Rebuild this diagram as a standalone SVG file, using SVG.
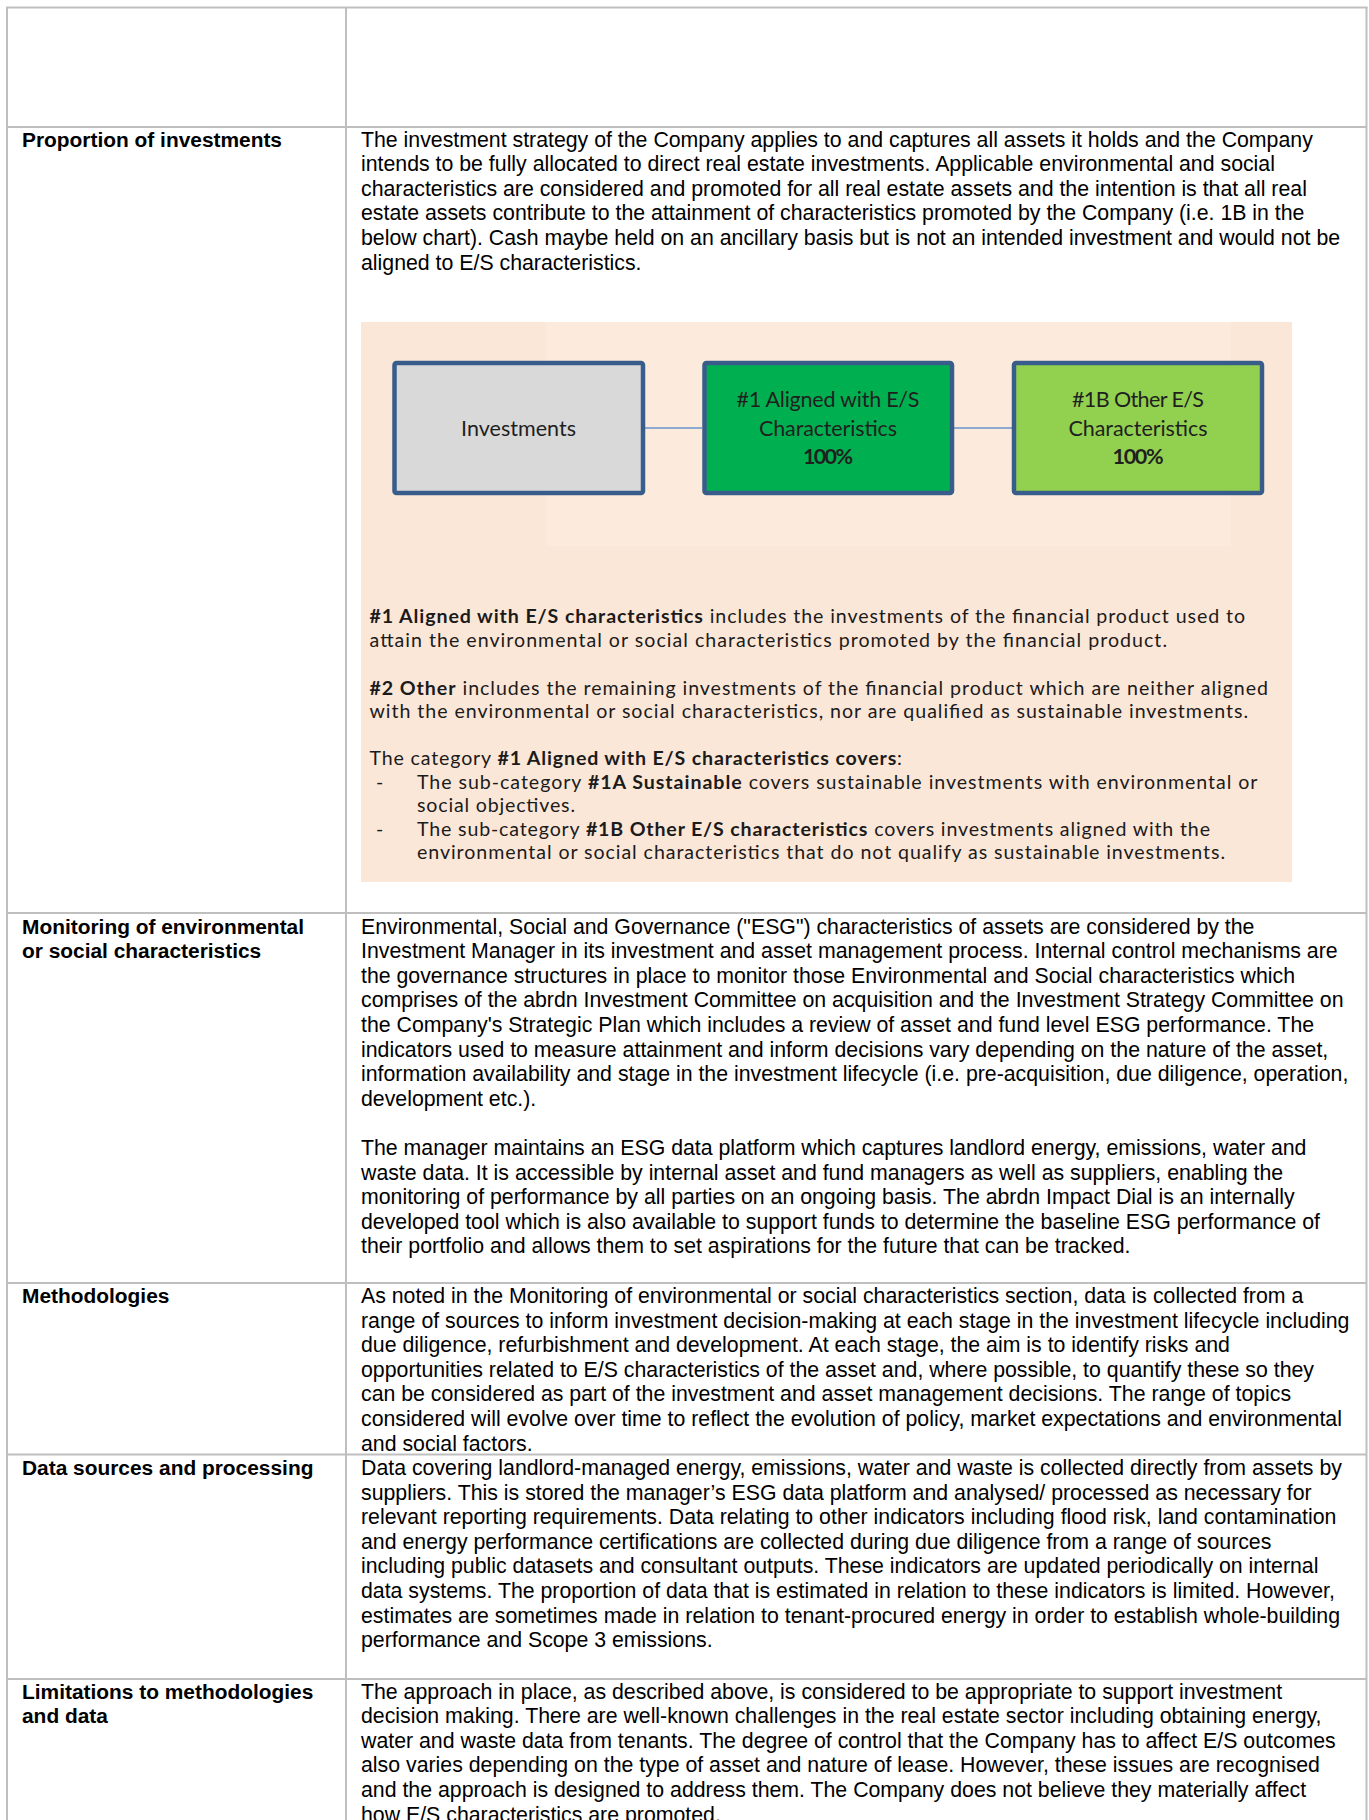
<svg xmlns="http://www.w3.org/2000/svg" width="1369" height="1820" viewBox="0 0 1369 1820">
<style>
.t{font-family:"Liberation Sans",Arial,sans-serif;font-size:21.3px;fill:#000}
.lb{font-family:"Liberation Sans",Arial,sans-serif;font-size:20.9px;font-weight:bold;fill:#000}
.c{font-family:Lato,"Open Sans",sans-serif;font-size:19.6px;fill:#1b1b1b}
.b{font-weight:bold}
.bx{font-family:Lato,"Open Sans",sans-serif;font-size:21.5px;fill:#1f1f1f;text-anchor:middle}
.grid line{stroke:#BFBFBF;stroke-width:2}
.node rect{stroke:#385D8A;stroke-width:4.5}
.conn line{stroke:#6A95CC;stroke-width:1.6}
</style>
<rect width="1369" height="1820" fill="#fff"/>
<g class="grid">
<line x1="6" y1="7.5" x2="1367.5" y2="7.5"/>
<line x1="7" y1="127" x2="1366.5" y2="127"/>
<line x1="7" y1="913" x2="1366.5" y2="913"/>
<line x1="7" y1="1283" x2="1366.5" y2="1283"/>
<line x1="7" y1="1454.5" x2="1366.5" y2="1454.5"/>
<line x1="7" y1="1679" x2="1366.5" y2="1679"/>
<line x1="7" y1="7" x2="7" y2="1820"/>
<line x1="346" y1="7" x2="346" y2="1820"/>
<line x1="1366.5" y1="7" x2="1366.5" y2="1820"/>
</g>

<g id="labels">
<text class="lb" x="22" y="146.5">Proportion of investments</text>
<text class="lb" x="22" y="933.5">Monitoring of environmental<tspan x="22" dy="24.6">or social characteristics</tspan></text>
<text class="lb" x="22" y="1303">Methodologies</text>
<text class="lb" x="22" y="1475">Data sources and processing</text>
<text class="lb" x="22" y="1698.5">Limitations to methodologies<tspan x="22" dy="24.6">and data</tspan></text>
</g>

<g id="text-proportion">
<text class="t" x="361" y="146.5">The investment strategy of the Company applies to and captures all assets it holds and the Company<tspan x="361" dy="24.6">intends to be fully allocated to direct real estate investments. Applicable environmental and social</tspan><tspan x="361" dy="24.6">characteristics are considered and promoted for all real estate assets and the intention is that all real</tspan><tspan x="361" dy="24.6">estate assets contribute to the attainment of characteristics promoted by the Company (i.e. 1B in the</tspan><tspan x="361" dy="24.6">below chart). Cash maybe held on an ancillary basis but is not an intended investment and would not be</tspan><tspan x="361" dy="24.6">aligned to E/S characteristics.</tspan></text>
</g>

<g id="chart">
<rect x="361" y="322" width="931" height="560" fill="#FBE7D8"/>
<rect x="546" y="322" width="685" height="224" fill="#FCEADD"/>
<g class="conn" id="connectors">
<line x1="645" y1="428" x2="702" y2="428"/>
<line x1="954" y1="428" x2="1012" y2="428"/>
</g>
<g class="node" id="node-investments">
<rect x="394.5" y="363" width="248.5" height="130" rx="2" fill="#D9D9D9"/>
<text class="bx" x="518.5" y="435.5" textLength="115" fill="#262626">Investments</text>
</g>
<g class="node" id="node-aligned">
<rect x="704.5" y="363" width="247.5" height="130" rx="2" fill="#00B050"/>
<text class="bx" x="828" y="406.5" textLength="183">#1 Aligned with E/S</text>
<text class="bx" x="828" y="435.5" textLength="138">Characteristics</text>
<text class="bx b" x="828" y="464" textLength="50">100%</text>
</g>
<g class="node" id="node-other">
<rect x="1014" y="363" width="248" height="130" rx="2" fill="#92D050"/>
<text class="bx" x="1138" y="406.5" textLength="132">#1B Other E/S</text>
<text class="bx" x="1138" y="435.5" textLength="139">Characteristics</text>
<text class="bx b" x="1138" y="464" textLength="51">100%</text>
</g>
<g id="chart-legend">
<text class="c" x="369.5" y="623" textLength="875.5" lengthAdjust="spacing"><tspan class="b">#1 Aligned with E/S characteristics</tspan> includes the investments of the financial product used to</text>
<text class="c" x="369.5" y="646.7" textLength="797.5" lengthAdjust="spacing">attain the environmental or social characteristics promoted by the financial product.</text>
<text class="c" x="369.5" y="695" textLength="898.5" lengthAdjust="spacing"><tspan class="b">#2 Other</tspan> includes the remaining investments of the financial product which are neither aligned</text>
<text class="c" x="369.5" y="717.7" textLength="878.5" lengthAdjust="spacing">with the environmental or social characteristics, nor are qualified as sustainable investments.</text>
<text class="c" x="369.5" y="765" textLength="532.5" lengthAdjust="spacing">The category <tspan class="b">#1 Aligned with E/S characteristics covers</tspan>:</text>
<text class="c" x="376" y="789">-</text>
<text class="c" x="417" y="789" textLength="840.5" lengthAdjust="spacing">The sub-category <tspan class="b">#1A Sustainable</tspan> covers sustainable investments with environmental or</text>
<text class="c" x="417" y="811.7" textLength="158" lengthAdjust="spacing">social objectives.</text>
<text class="c" x="376" y="836">-</text>
<text class="c" x="417" y="836" textLength="793" lengthAdjust="spacing">The sub-category <tspan class="b">#1B Other E/S characteristics</tspan> covers investments aligned with the</text>
<text class="c" x="417" y="859" textLength="808" lengthAdjust="spacing">environmental or social characteristics that do not qualify as sustainable investments.</text>
</g>
</g>

<g id="text-monitoring">
<text class="t" x="361" y="933.5">Environmental, Social and Governance ("ESG") characteristics of assets are considered by the<tspan x="361" dy="24.6">Investment Manager in its investment and asset management process. Internal control mechanisms are</tspan><tspan x="361" dy="24.6">the governance structures in place to monitor those Environmental and Social characteristics which</tspan><tspan x="361" dy="24.6">comprises of the abrdn Investment Committee on acquisition and the Investment Strategy Committee on</tspan><tspan x="361" dy="24.6">the Company's Strategic Plan which includes a review of asset and fund level ESG performance. The</tspan><tspan x="361" dy="24.6">indicators used to measure attainment and inform decisions vary depending on the nature of the asset,</tspan><tspan x="361" dy="24.6">information availability and stage in the investment lifecycle (i.e. pre-acquisition, due diligence, operation,</tspan><tspan x="361" dy="24.6">development etc.).</tspan><tspan x="361" dy="49.2">The manager maintains an ESG data platform which captures landlord energy, emissions, water and</tspan><tspan x="361" dy="24.6">waste data. It is accessible by internal asset and fund managers as well as suppliers, enabling the</tspan><tspan x="361" dy="24.6">monitoring of performance by all parties on an ongoing basis. The abrdn Impact Dial is an internally</tspan><tspan x="361" dy="24.6">developed tool which is also available to support funds to determine the baseline ESG performance of</tspan><tspan x="361" dy="24.6">their portfolio and allows them to set aspirations for the future that can be tracked.</tspan></text>
</g>

<g id="text-methodologies">
<text class="t" x="361" y="1303">As noted in the Monitoring of environmental or social characteristics section, data is collected from a<tspan x="361" dy="24.6">range of sources to inform investment decision-making at each stage in the investment lifecycle including</tspan><tspan x="361" dy="24.6">due diligence, refurbishment and development. At each stage, the aim is to identify risks and</tspan><tspan x="361" dy="24.6">opportunities related to E/S characteristics of the asset and, where possible, to quantify these so they</tspan><tspan x="361" dy="24.6">can be considered as part of the investment and asset management decisions. The range of topics</tspan><tspan x="361" dy="24.6">considered will evolve over time to reflect the evolution of policy, market expectations and environmental</tspan><tspan x="361" dy="24.6">and social factors.</tspan></text>
</g>

<g id="text-data">
<text class="t" x="361" y="1475">Data covering landlord-managed energy, emissions, water and waste is collected directly from assets by<tspan x="361" dy="24.6">suppliers. This is stored the manager’s ESG data platform and analysed/ processed as necessary for</tspan><tspan x="361" dy="24.6">relevant reporting requirements. Data relating to other indicators including flood risk, land contamination</tspan><tspan x="361" dy="24.6">and energy performance certifications are collected during due diligence from a range of sources</tspan><tspan x="361" dy="24.6">including public datasets and consultant outputs. These indicators are updated periodically on internal</tspan><tspan x="361" dy="24.6">data systems. The proportion of data that is estimated in relation to these indicators is limited. However,</tspan><tspan x="361" dy="24.6">estimates are sometimes made in relation to tenant-procured energy in order to establish whole-building</tspan><tspan x="361" dy="24.6">performance and Scope 3 emissions.</tspan></text>
</g>

<g id="text-limitations">
<text class="t" x="361" y="1698.5">The approach in place, as described above, is considered to be appropriate to support investment<tspan x="361" dy="24.6">decision making. There are well-known challenges in the real estate sector including obtaining energy,</tspan><tspan x="361" dy="24.6">water and waste data from tenants. The degree of control that the Company has to affect E/S outcomes</tspan><tspan x="361" dy="24.6">also varies depending on the type of asset and nature of lease. However, these issues are recognised</tspan><tspan x="361" dy="24.6">and the approach is designed to address them. The Company does not believe they materially affect</tspan><tspan x="361" dy="24.6">how E/S characteristics are promoted.</tspan></text>
</g>
</svg>
